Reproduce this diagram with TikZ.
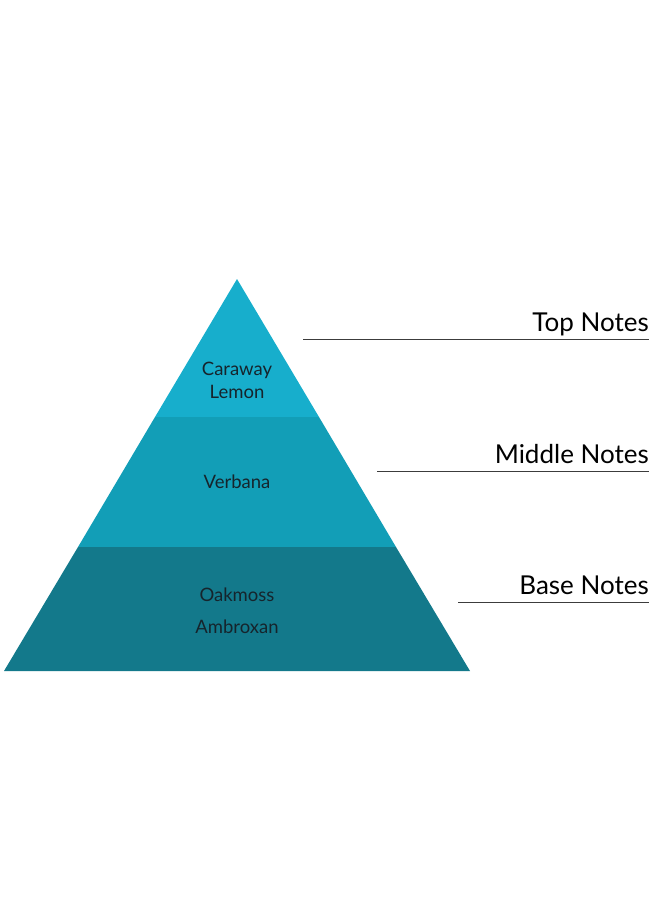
\documentclass[tikz,border=0pt]{standalone}
\usepackage{fontspec}
\setmainfont{Lato}
\definecolor{topband}{RGB}{23,174,204}
\definecolor{midband}{RGB}{18,158,183}
\definecolor{baseband}{RGB}{19,121,139}
\definecolor{notetext}{RGB}{22,36,44}
\definecolor{rulegrey}{RGB}{60,60,60}
\tikzset{
	note/.style={text=notetext, font=\fontsize{18.5}{23}\selectfont, align=center, inner sep=0pt},
	tier/.style={font=\fontsize{26}{30}\selectfont, anchor=base east, inner sep=0pt, text=black},
	tierline/.style={draw=rulegrey, line width=1pt}
}
\begin{document}
\begin{tikzpicture}[x=1pt,y=-1pt]
	\useasboundingbox (0,0) rectangle (660,904);
	\fill[topband] (237,279) -- (319,417) -- (155,417) -- cycle;
	\fill[midband] (155,417) -- (319,417) -- (396,547) -- (78,547) -- cycle;
	\fill[baseband] (78,547) -- (396,547) -- (470,671) -- (4,671) -- cycle;
	
	\node[note, anchor=base] (caraway) at (237,375) {Caraway};
	\node[note, anchor=base] (lemon) at (237,398) {Lemon};
	\node[note, anchor=base] (verbana) at (237,488) {Verbana};
	\node[note, anchor=base] (oakmoss) at (237,601) {Oakmoss};
	\node[note, anchor=base] (ambroxan) at (237,633) {Ambroxan};
	
	\coordinate (topL) at (303,339);
	\coordinate (topR) at (649,339);
	\coordinate (midL) at (377,471.5);
	\coordinate (midR) at (649,471.5);
	\coordinate (baseL) at (458,602);
	\coordinate (baseR) at (649,602);
	\draw[tierline] (topL) -- (topR);
	\draw[tierline] (midL) -- (midR);
	\draw[tierline] (baseL) -- (baseR);
	\node[tier] (toptier) at ([yshift=8pt]topR) {Top Notes};
	\node[tier] (midtier) at ([yshift=8pt]midR) {Middle Notes};
	\node[tier] (basetier) at ([yshift=8pt]baseR) {Base Notes};
\end{tikzpicture}
\end{document}
